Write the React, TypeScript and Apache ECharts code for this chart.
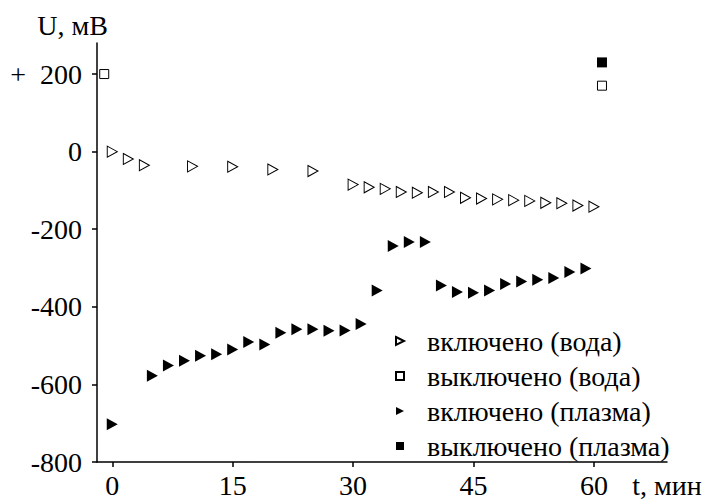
import React, { useEffect, useRef } from "react";
import * as echarts from "echarts";

const onWaterT = [0, 2, 4, 10, 15, 20, 25, 30, 32, 34, 36, 38, 40, 42, 44, 46, 48, 50, 52, 54, 56, 58, 60];
const onWaterU = [0, -19, -35, -38, -39, -46, -50, -85, -92, -96, -104, -106, -104, -104, -119, -121, -123, -125, -127, -132, -133, -139, -142];
const offWaterT = [-1, 61];
const offWaterU = [200, 170];
const onPlasmaT = [0, 5, 7, 9, 11, 13, 15, 17, 19, 21, 23, 25, 27, 29, 31, 33, 35, 37, 39, 41, 43, 45, 47, 49, 51, 53, 55, 57, 59];
const onPlasmaU = [-703, -578, -551, -539, -526, -522, -510, -491, -497, -467, -458, -458, -462, -461, -444, -358, -243, -233, -233, -345, -362, -364, -358, -341, -335, -330, -326, -310, -301];
const offPlasmaT = [61];
const offPlasmaU = [230];

const xTicks = [0, 15, 30, 45, 60];
const yTicks = [-800, -600, -400, -200, 0, 200];
const seriesNames = ["включено (вода)", "выключено (вода)", "включено (плазма)", "выключено (плазма)"];

const TRI_RIGHT = "path://M0,0 L10,5 L0,10 Z";

const zip = (a: number[], b: number[]) => a.map((v, i) => [v, b[i]]);

export default function App() {
  const ref = useRef<HTMLDivElement>(null);
  useEffect(() => {
    if (!ref.current) return;
    const chart = echarts.init(ref.current, undefined, { renderer: "svg" });
    const textBase = { color: "#000", fontFamily: "Liberation Serif", fontWeight: "normal", fontStyle: "normal", fontSize: 28 };
    chart.setOption({
      animation: false,
      grid: { left: 97, right: 43, top: 43, bottom: 36, containLabel: false },
      xAxis: {
        type: "value",
        min: -1.9,
        max: 69.1,
        name: "t, мин",
        nameLocation: "end",
        nameGap: 0,
        nameTextStyle: { ...textBase, align: "center", verticalAlign: "top", padding: [9, 0, 0, 0] },
        axisLine: { show: true, onZero: false, lineStyle: { color: "#000", width: 1.5 } },
        axisTick: { show: true, inside: false, length: 5, customValues: xTicks, lineStyle: { color: "#000", width: 1.5 } },
        axisLabel: { ...textBase, margin: 9, customValues: xTicks },
        splitLine: { show: false },
      },
      yAxis: {
        type: "value",
        min: -800,
        max: 280,
        name: "U, мВ",
        nameLocation: "end",
        nameGap: 4,
        nameTextStyle: { ...textBase, align: "center", padding: [0, 49, 0, 0] },
        axisLine: { show: true, onZero: false, lineStyle: { color: "#000", width: 1.5 } },
        axisTick: { show: true, inside: false, length: 5, customValues: yTicks, lineStyle: { color: "#000", width: 1.5 } },
        axisLabel: {
          ...textBase,
          margin: 15,
          customValues: yTicks,
          formatter: (v: number) => (v === 200 ? "+  200" : String(v)),
        },
        splitLine: { show: false },
      },
      legend: {
        orient: "vertical",
        left: 390,
        top: 322,
        itemWidth: 8,
        itemHeight: 8,
        itemGap: 7,
        textStyle: { ...textBase, lineHeight: 28, padding: [0, 0, 0, 18] },
        data: [
          { name: seriesNames[0], icon: TRI_RIGHT },
          { name: seriesNames[1], icon: "rect" },
          { name: seriesNames[2], icon: TRI_RIGHT },
          { name: seriesNames[3], icon: "rect" },
        ],
      },
      series: [
        {
          name: seriesNames[0],
          type: "scatter",
          symbol: TRI_RIGHT,
          symbolSize: [10, 11],
          itemStyle: { color: "#fff", borderColor: "#000", borderWidth: 1, opacity: 1 },
          data: zip(onWaterT, onWaterU),
        },
        {
          name: seriesNames[1],
          type: "scatter",
          symbol: "rect",
          symbolSize: 9,
          itemStyle: { color: "#fff", borderColor: "#000", borderWidth: 1, opacity: 1 },
          data: zip(offWaterT, offWaterU),
        },
        {
          name: seriesNames[2],
          type: "scatter",
          symbol: TRI_RIGHT,
          symbolSize: [11, 12],
          itemStyle: { color: "#000", opacity: 1 },
          data: zip(onPlasmaT, onPlasmaU),
        },
        {
          name: seriesNames[3],
          type: "scatter",
          symbol: "rect",
          symbolSize: 10,
          itemStyle: { color: "#000", opacity: 1 },
          data: zip(offPlasmaT, offPlasmaU),
        },
      ],
    });
    return () => chart.dispose();
  }, []);
  return <div ref={ref} style={{ width: 710, height: 499, position: "absolute", left: 0, top: 0 }} />;
}
